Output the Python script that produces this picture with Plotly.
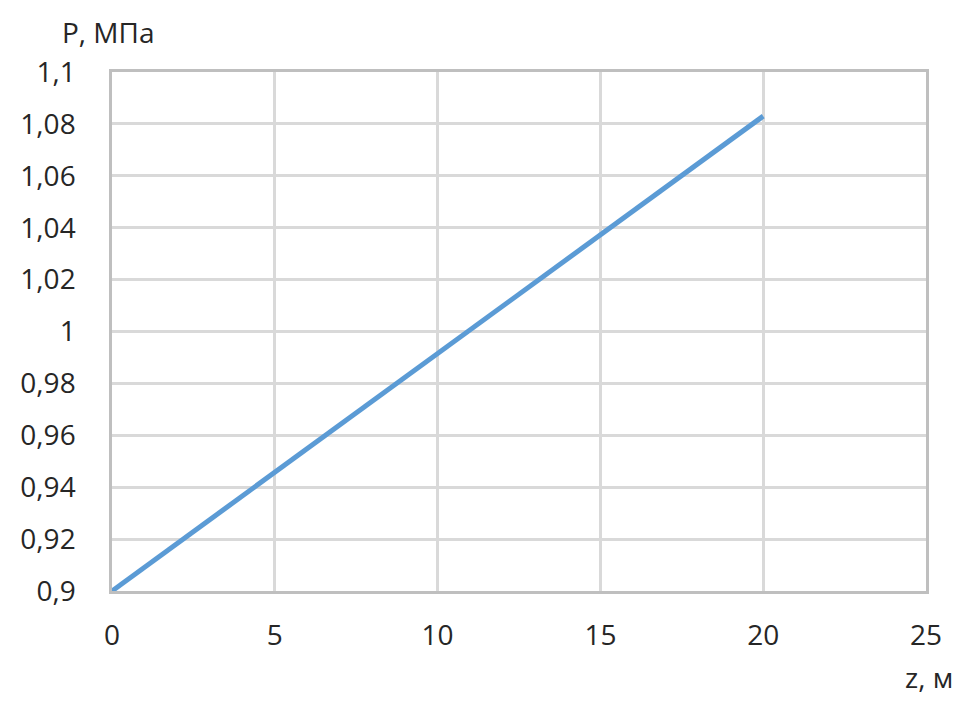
import plotly.graph_objects as go

z_m = [0, 5, 10, 15, 20]
p_mpa = [0.9, 0.9457, 0.9915, 1.0372, 1.083]

fig = go.Figure()
fig.add_trace(go.Scatter(x=z_m, y=p_mpa, mode="lines",
                         line=dict(color="#5B9BD5", width=5), showlegend=False))

font = dict(family="Open Sans, Liberation Sans, sans-serif", size=28, color="#262626")
fig.update_layout(
    width=972, height=725,
    margin=dict(l=98, r=54, t=64, b=142),
    paper_bgcolor="white", plot_bgcolor="white",
    separators=", ",
    font=font,
    xaxis=dict(range=[0, 25], dtick=5, showgrid=True, gridcolor="#d9d9d9", gridwidth=2.5,
               zeroline=False, showline=True, linecolor="#bfbfbf", linewidth=2.5,
               mirror=True, ticks="outside", ticklen=18, tickcolor="rgba(0,0,0,0)",
               fixedrange=True),
    yaxis=dict(range=[0.9, 1.1], dtick=0.02, showgrid=True, gridcolor="#d9d9d9", gridwidth=2.5,
               zeroline=False, showline=True, linecolor="#bfbfbf", linewidth=2.5,
               mirror=True, ticks="outside", ticklen=28, tickcolor="rgba(0,0,0,0)",
               fixedrange=True),
    annotations=[
        dict(text="P, МПа", xref="paper", yref="paper", x=0, y=1, xshift=-4, yshift=40,
             showarrow=False, xanchor="center", yanchor="middle", font=font),
        dict(text="z, м", xref="paper", yref="paper", x=1, y=0, xshift=3, yshift=-86,
             showarrow=False, xanchor="center", yanchor="middle", font=font),
    ],
)
fig.write_html("out.html")
